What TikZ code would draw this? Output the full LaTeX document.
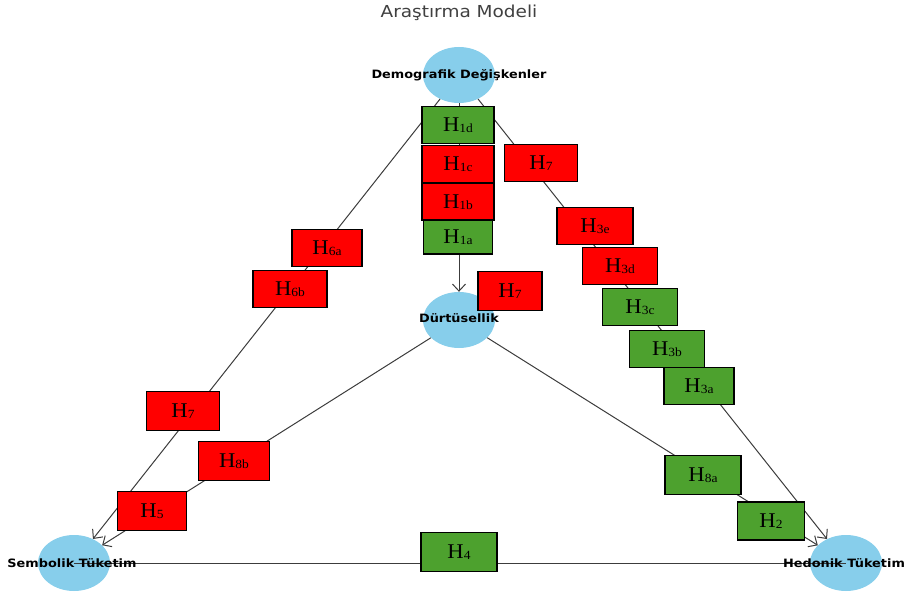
\documentclass[tikz,border=0pt]{standalone}
\usepackage{fontspec}
\usetikzlibrary{shapes.geometric,arrows.meta}
\newfontfamily\dejavu[FakeStretch=1.12]{DejaVu Sans}
\newfontfamily\hserif[FakeStretch=1.08]{Liberation Serif}
\definecolor{hgreen}{RGB}{77,161,46}
\definecolor{hred}{RGB}{255,0,0}
\definecolor{vblue}{RGB}{135,206,235}
\definecolor{edgegray}{RGB}{60,60,60}
\newcommand\hsub[1]{H\raisebox{-1.5pt}{\fontsize{12.5}{13}\selectfont #1}}
\tikzset{
  var/.style={ellipse,fill=vblue,draw=none,minimum width=72pt,minimum height=56pt,inner sep=0pt},
  vtext/.style={font=\dejavu\bfseries\fontsize{11.5}{13}\selectfont,inner sep=0pt},
  conn/.style={draw=edgegray,line width=1pt},
  arr/.style={conn,-{Straight Barb[length=7pt,width=13pt,line width=1pt]}},
  hbox/.style={draw=black,line width=1.8pt,minimum width=72pt,minimum height=37pt,inner sep=0pt,font=\hserif\fontsize{21}{22}\selectfont},
  gbox/.style={hbox,fill=hgreen},
  rbox/.style={hbox,fill=hred}
}
\begin{document}
\begin{tikzpicture}[x=1pt,y=-1pt]
\useasboundingbox (0,0) rectangle (906,594);
\node[font=\dejavu\fontsize{16.5}{18}\selectfont,text=black!75,inner sep=0pt] (title) at (459,13) {Araştırma Modeli};
% variables
\node[var] (D) at (459,75) {};
\node[var] (U) at (459,320) {};
\node[var] (S) at (74,563) {};
\node[var] (E) at (846,563) {};
% connectors
\draw[arr] (D) -- (U);
\draw[arr] (D) -- (S);
\draw[arr] (U) -- (S);
\draw[arr] (D) -- (E);
\draw[arr] (U) -- (E);
\draw[conn] (S.center) -- (E.center);
% variable texts
\node[vtext] (Dt) at (459,75) {Demografik Değişkenler};
\node[vtext] (Ut) at (459,318) {Dürtüsellik};
\node[vtext] (St) at (72,563) {Sembolik Tüketim};
\node[vtext] (Et) at (844,563) {Hedonik Tüketim};
% hypothesis boxes
\node[gbox] (h1d) at (458,125) {\hsub{1d}};
\node[rbox] (h1c) at (458,164) {\hsub{1c}};
\node[rbox] (h1b) at (458,202) {\hsub{1b}};
\node[gbox,minimum width=69pt,minimum height=34pt] (h1a) at (458,237) {\hsub{1a}};
\node[rbox,minimum width=73pt] (h7a) at (541,163) {\hsub{7}};
\node[rbox,minimum width=76pt] (h3e) at (595,226) {\hsub{3e}};
\node[rbox,minimum width=75pt] (h3d) at (620,266) {\hsub{3d}};
\node[gbox,minimum width=75pt] (h3c) at (640,307) {\hsub{3c}};
\node[gbox,minimum width=75pt] (h3b) at (667,349) {\hsub{3b}};
\node[gbox,minimum width=70pt] (h3a) at (699,386) {\hsub{3a}};
\node[rbox,minimum width=64pt,minimum height=39pt] (h7b) at (510,291) {\hsub{7}};
\node[rbox,minimum width=70pt] (h6a) at (327,248) {\hsub{6a}};
\node[rbox,minimum width=74pt] (h6b) at (290,289) {\hsub{6b}};
\node[rbox,minimum width=73pt,minimum height=39pt] (h7c) at (183,411) {\hsub{7}};
\node[rbox,minimum width=71pt,minimum height=39pt] (h8b) at (234,461) {\hsub{8b}};
\node[rbox,minimum width=69pt,minimum height=39pt] (h5) at (152,511) {\hsub{5}};
\node[gbox,minimum width=76pt,minimum height=39pt] (h8a) at (703,475) {\hsub{8a}};
\node[gbox,minimum width=67pt,minimum height=38pt] (h2) at (771,521) {\hsub{2}};
\node[gbox,minimum width=76pt,minimum height=39pt] (h4) at (459,552) {\hsub{4}};
\end{tikzpicture}
\end{document}
